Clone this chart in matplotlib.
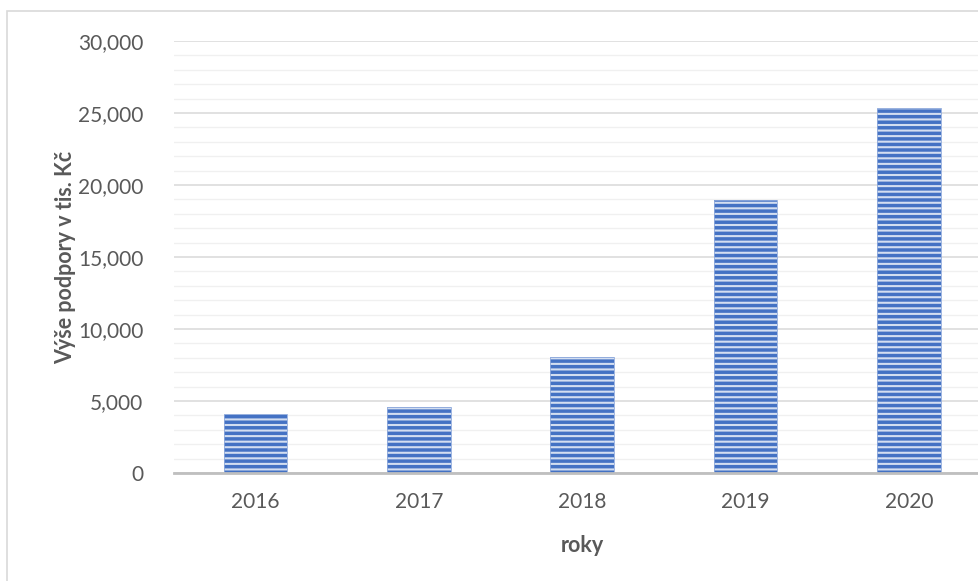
import matplotlib.pyplot as plt
from matplotlib.patches import Rectangle
from matplotlib.ticker import FuncFormatter, MultipleLocator

years = ['2016', '2017', '2018', '2019', '2020']
support = [4100, 4600, 8030, 18950, 25370]

plt.rcParams['font.family'] = ['Lato', 'DejaVu Sans']
plt.rcParams['hatch.color'] = '#D3DEF1'
plt.rcParams['hatch.linewidth'] = 1.5

fig = plt.figure(figsize=(9.79, 5.81), dpi=100)
ax = fig.add_axes([174 / 979, 1 - 473 / 581, 816.5 / 979, 432 / 581])

x = range(len(years))
ax.bar(x, support, width=0.39, color='#4472C4', hatch='---', linewidth=0, zorder=3)
ax.bar(x, support, width=0.39, fill=False, edgecolor='#8FAADC', linewidth=0.6, zorder=4)

ax.set_xlim(-0.5, len(years) - 0.5)
ax.set_ylim(0, 30000)
ax.yaxis.set_major_locator(MultipleLocator(5000))
ax.yaxis.set_minor_locator(MultipleLocator(1000))
ax.yaxis.set_major_formatter(FuncFormatter(lambda v, p: f'{int(v):,}'))
ax.grid(axis='y', which='major', color='#D9D9D9', linewidth=1.1, zorder=0)
ax.grid(axis='y', which='minor', color='#F0F0F0', linewidth=1.0, zorder=0)

ax.set_xticks(list(x))
ax.set_xticklabels(years)
ax.tick_params(axis='both', which='both', length=0, labelsize=15, colors='#595959')
ax.tick_params(axis='y', pad=22)
ax.tick_params(axis='x', pad=14)

for s in ['top', 'right', 'left']:
    ax.spines[s].set_visible(False)
ax.spines['bottom'].set_color('#BFBFBF')
ax.spines['bottom'].set_linewidth(2)
ax.spines['bottom'].set_zorder(5)

ax.set_ylabel('Výše podpory v tis. Kč', fontsize=15.5, fontweight='bold', color='#595959')
ax.yaxis.set_label_coords((76 - 174) / 816.5, 0.5)
fig.text(582 / 979, 1 - 546 / 581, 'roky', ha='center', va='center',
         fontsize=15.5, fontweight='bold', color='#595959')

fig.patches.append(Rectangle((7 / 979, -0.1), 1.2, 1 - 11 / 581 + 0.1,
                             transform=fig.transFigure, fill=False,
                             edgecolor='#D9D9D9', linewidth=1.2))

fig.savefig('out.png', dpi=100)
